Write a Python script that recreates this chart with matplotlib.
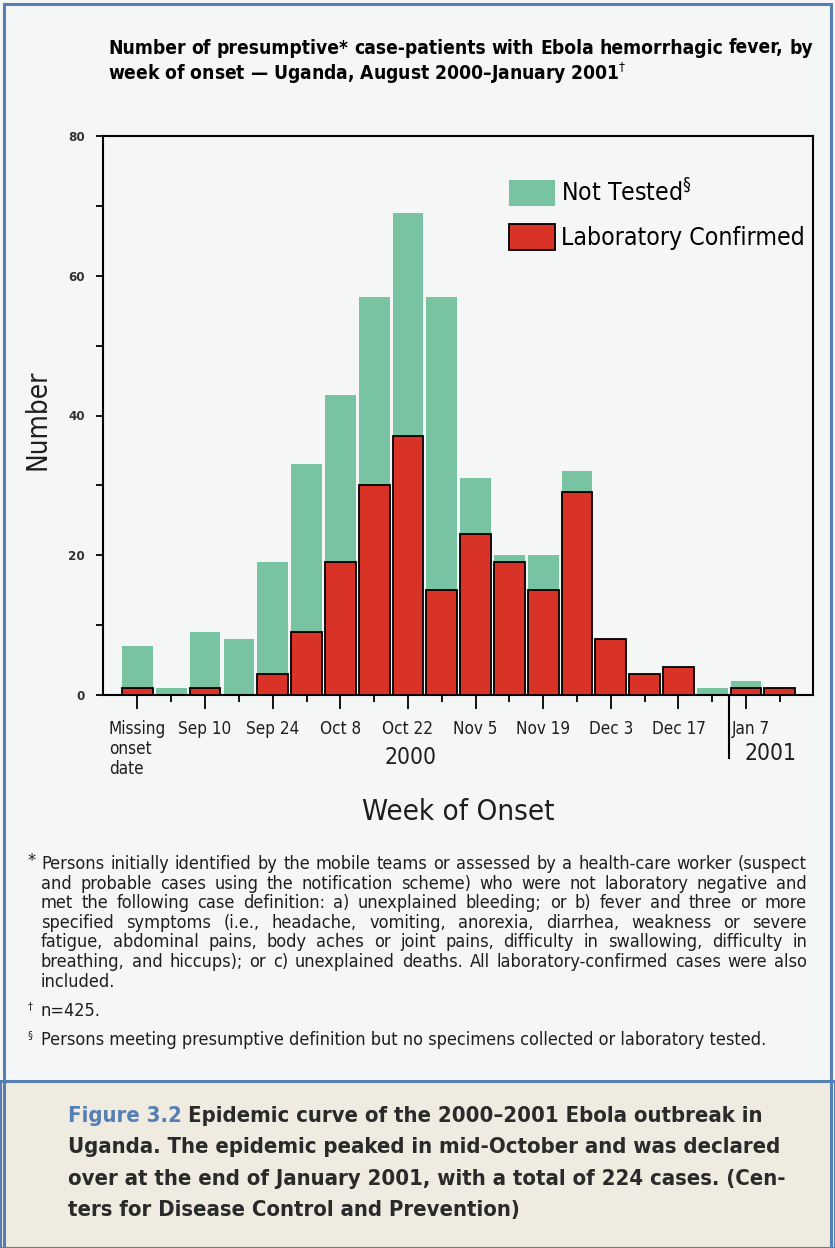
import numpy as np
import matplotlib
matplotlib.use("Agg")
from matplotlib import pyplot as plt
from matplotlib import font_manager as fm
from matplotlib.patches import Rectangle
from matplotlib.transforms import ScaledTranslation

# weekly counts (index 0 = missing onset date)
confirmed = [1, 0, 1, 0, 3, 9, 19, 30, 37, 15, 23, 19, 15, 29, 8, 3, 4, 0, 1, 1]
not_tested = [6, 1, 8, 8, 16, 24, 24, 27, 32, 42, 8, 1, 5, 3, 0, 0, 0, 1, 1, 0]
week_labels = ["Missing\nonset\ndate", "Sep 10", "Sep 24", "Oct 8", "Oct 22",
               "Nov 5", "Nov 19", "Dec 3", "Dec 17", "Jan 7"]
y_ticks = [0, 20, 40, 60, 80]

footnote_lines = [
    "Persons initially identified by the mobile teams or assessed by a health-care worker (suspect",
    "and probable cases using the notification scheme) who were not laboratory negative and",
    "met the following case definition: a) unexplained bleeding; or b) fever and three or more",
    "specified symptoms (i.e., headache, vomiting, anorexia, diarrhea, weakness or severe",
    "fatigue, abdominal pains, body aches or joint pains, difficulty in swallowing, difficulty in",
    "breathing, and hiccups); or c) unexplained deaths. All laboratory-confirmed cases were also",
    "included.",
]
caption_lines = [
    "Epidemic curve of the 2000\u20132001 Ebola outbreak in",
    "Uganda. The epidemic peaked in mid-October and was declared",
    "over at the end of January 2001, with a total of 224 cases. (Cen-",
    "ters for Disease Control and Prevention)",
]

W, H = 835, 1248
BG = "#f5f6f6"
GREEN = "#77c3a2"
RED = "#d93226"
BLUE = "#5580b4"
INK = "#1e1e1e"

# pick a narrow face if one is around, else Liberation Sans
names = {f.name for f in fm.fontManager.ttflist}
cond = [f for f in fm.fontManager.ttflist
        if f.name == "DejaVu Sans" and str(f.stretch) in ("condensed", "semi-condensed")]
if "Liberation Sans Narrow" in names:
    FAM, STRETCH = "Liberation Sans Narrow", "normal"
elif cond:
    FAM, STRETCH = "DejaVu Sans", "condensed"
else:
    FAM, STRETCH = "Liberation Sans", "normal"

plt.rcParams["font.family"] = [FAM, "DejaVu Sans"]
plt.rcParams["font.stretch"] = STRETCH
plt.rcParams["mathtext.fontset"] = "custom"
plt.rcParams["mathtext.rm"] = FAM
plt.rcParams["mathtext.bf"] = FAM + ":bold"


def fx(px):
    return px / W


def fy(py):
    return 1 - py / H


fig = plt.figure(figsize=(W / 100, H / 100), dpi=100)
fig.patch.set_facecolor(BG)
renderer = fig.canvas.get_renderer()


def width_of(t):
    return t.get_window_extent(renderer).width


def fit(t, target, vertical=False):
    bb = t.get_window_extent(renderer)
    size = bb.height if vertical else bb.width
    t.set_fontsize(t.get_fontsize() * target / size)
    return t


def size_for(s, target, **kw):
    t = fig.text(0, 0, s, fontsize=12, **kw)
    w = width_of(t)
    t.remove()
    return 12 * target / w


def justify(words, x0, x1, y, **kw):
    texts = [fig.text(fx(x0), fy(y), w, va="center", ha="left", **kw) for w in words]
    widths = [width_of(t) for t in texts]
    gap = (x1 - x0 - sum(widths)) / max(len(words) - 1, 1)
    x = x0
    for t, w in zip(texts, widths):
        t.set_x(fx(x))
        x += w + gap


# --- chart
ax = fig.add_axes([fx(103), fy(695), fx(813) - fx(103), fy(136) - fy(695)])
ax.set_facecolor(BG)
x = np.arange(len(confirmed))
red_bars = ax.bar(x, confirmed, width=0.91, color=RED, edgecolor="black",
                  linewidth=1.3, zorder=3, label="Laboratory Confirmed")
green_bars = ax.bar(x, not_tested, bottom=confirmed, width=0.91, color=GREEN,
                    linewidth=0, zorder=2, label="Not Tested$^{\u00a7}$")

ax.set_xlim(-1.02, 19.98)
ax.set_ylim(0, 80)
for s in ax.spines.values():
    s.set_linewidth(1.5)

ax.set_yticks(y_ticks)
ax.set_yticklabels([str(v) for v in y_ticks], fontsize=9.5, fontweight="bold",
                   color="#333333")
ax.set_yticks([10, 30, 50, 70], minor=True)
ax.tick_params(axis="y", which="both", direction="out", length=5, width=1.3, pad=8)

tick_size = size_for("Sep 10", 53)
ax.set_xticks(x[::2])
ax.set_xticklabels(week_labels, fontsize=tick_size, color=INK, linespacing=1.15)
ax.get_xticklabels()[0].set_multialignment("left")
ax.set_xticks(x[1::2], minor=True)
ax.tick_params(axis="x", which="major", direction="out", length=10, width=1.3, pad=8)
ax.tick_params(axis="x", which="minor", direction="out", length=5, width=1.3)
# nudge "Jan 7" clear of the year divider
jan = ax.get_xticklabels()[-1]
jan.set_transform(jan.get_transform() + ScaledTranslation(5 / 100, 0, fig.dpi_scale_trans))

# year divider under the axis
ax.axvline(17.5, ymin=-0.113, ymax=0, color="black", linewidth=1.5, clip_on=False)

leg_size = size_for("Laboratory Confirmed", 244)
ax.legend(handles=[green_bars, red_bars], loc="upper left",
          bbox_to_anchor=(0.572, 0.923), frameon=False, fontsize=leg_size,
          handlelength=46 / (leg_size * 1.389), handleheight=31 / (leg_size * 1.389),
          handletextpad=0.22, labelspacing=0.72, borderpad=0, borderaxespad=0)

year_size = size_for("2000", 52)
fig.text(fx(411), fy(758), "2000", fontsize=year_size, ha="center", va="center", color=INK)
fig.text(fx(770), fy(754), "2001", fontsize=year_size, ha="center", va="center", color=INK)
fit(fig.text(fx(458), fy(812), "Week of Onset", fontsize=19, ha="center", va="center",
             color=INK), 192)
fit(fig.text(fx(37), fy(420), "Number", fontsize=19, rotation=90, ha="center",
             va="center", color=INK), 100, vertical=True)

# --- title
title_size = size_for("Number of presumptive* case-patients with Ebola hemorrhagic fever, by",
                      700, fontweight="bold")
justify("Number of presumptive* case-patients with Ebola hemorrhagic fever, by".split(),
        108, 813, 48, fontsize=title_size, fontweight="bold", color="black")
fig.text(fx(108), fy(73), "week of onset \u2014 Uganda, August 2000\u2013January 2001$^{\u2020}$",
         fontsize=title_size, fontweight="bold", color="black", va="center")

# --- footnotes
note_size = size_for(footnote_lines[0], 756)
for i, line in enumerate(footnote_lines):
    y = 864 + i * 19.6
    if i < len(footnote_lines) - 1:
        justify(line.split(), 41, 807, y, fontsize=note_size, color=INK)
    else:
        fig.text(fx(41), fy(y), line, fontsize=note_size, color=INK, va="center")
fig.text(fx(27), fy(861), "*", fontsize=note_size, color=INK, va="center")
fig.text(fx(41), fy(1011), "n=425.", fontsize=note_size, color=INK, va="center")
fig.text(fx(28), fy(1006), "\u2020", fontsize=note_size * 0.6, color=INK, va="center")
fig.text(fx(41), fy(1040), "Persons meeting presumptive definition but no specimens collected or laboratory tested.",
         fontsize=note_size, color=INK, va="center")
fig.text(fx(28), fy(1035), "\u00a7", fontsize=note_size * 0.6, color=INK, va="center")

# --- caption box and frame
fig.add_artist(Rectangle((0, 0), 1, fy(1081), transform=fig.transFigure,
                         facecolor="#efebe1", edgecolor="none", zorder=0))
fig.add_artist(Rectangle((0, 0), 1, fy(1081), transform=fig.transFigure,
                         facecolor="none", edgecolor=BLUE, linewidth=2.2, zorder=5))
fig.add_artist(Rectangle((fx(4), 0), fx(827), fy(4), transform=fig.transFigure,
                         facecolor="none", edgecolor=BLUE, linewidth=2.2, zorder=5))

cap_size = size_for("Figure 3.2 " + caption_lines[0], 694, fontweight="bold")
head = fig.text(fx(68), fy(1116), "Figure 3.2", fontsize=cap_size, fontweight="bold",
                color=BLUE, va="center")
head_w = width_of(head)
for i, line in enumerate(caption_lines):
    x0 = 68 + head_w + cap_size * 0.4 if i == 0 else 68
    fig.text(fx(x0), fy(1116 + i * 31.3), line, fontsize=cap_size, fontweight="bold",
             color="#2a2a2a", va="center")

fig.savefig("out.png", dpi=100, facecolor=fig.get_facecolor())
plt.close(fig)
